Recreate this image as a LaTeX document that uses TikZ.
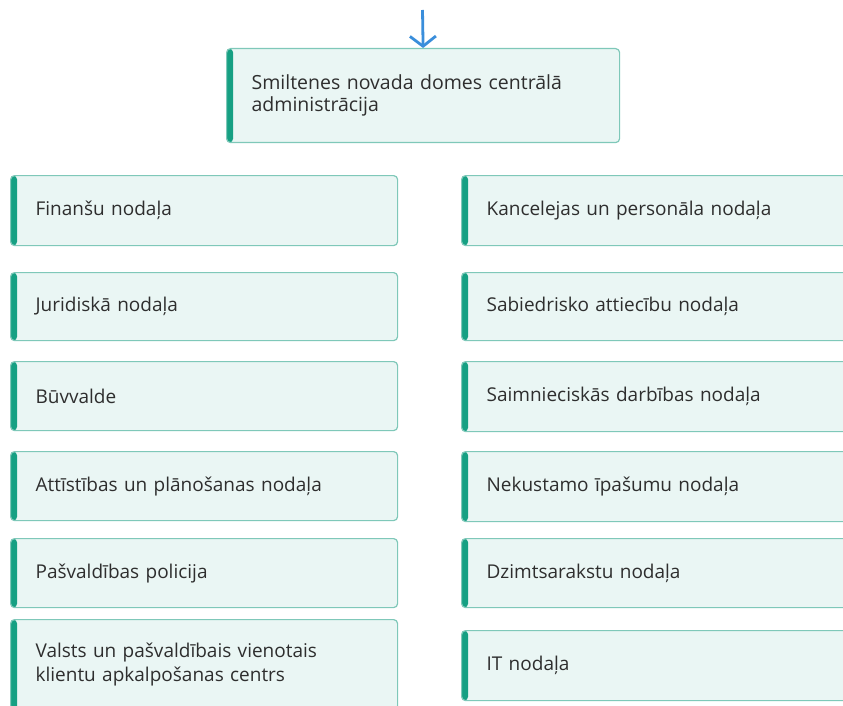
\documentclass[tikz,border=0pt]{standalone}
\usepackage{fontspec}
\setmainfont{Open Sans}
\usetikzlibrary{arrows.meta}
\definecolor{boxfill}{HTML}{EAF6F4}
\definecolor{boxline}{HTML}{7FC8B9}
\definecolor{accent}{HTML}{16A083}
\definecolor{txt}{HTML}{2E2E2E}
\definecolor{arrowblue}{HTML}{3A8EDB}
\tikzset{
  unit box/.style={draw=boxline, line width=1.2pt, fill=boxfill, rounded corners=4pt,
    anchor=north west, inner xsep=0pt, inner ysep=0pt, align=left, text=txt,
    font=\fontsize{19}{24.5}\selectfont,
    path picture={\fill[accent] (path picture bounding box.north west) rectangle ([xshift=6.5pt]path picture bounding box.south west);}},
  leftbox/.style={unit box, minimum width=387pt, text width=337pt},
  rightbox/.style={unit box, minimum width=400pt, text width=350pt},
  arr/.style={draw=arrowblue, line width=2.8pt, -{Straight Barb[length=10pt,width=26pt,line width=2.8pt]}}
}
\begin{document}
\begin{tikzpicture}[x=1pt,y=-1pt]
\clip (0,0) rectangle (843,706);
\fill[white] (0,0) rectangle (843,706);
\node[unit box, minimum width=393pt, text width=343pt, minimum height=94pt,
  font=\fontsize{19.5}{22.5}\selectfont] (top) at (226,48)
  {Smiltenes novada domes centrālā\\administrācija};
\coordinate (src) at (422.5,10);
\draw[arr] (src) -- (top.north);
% left column
\node[leftbox, minimum height=70pt] (l1) at (10,175) {Finanšu nodaļa};
\node[leftbox, minimum height=68pt] (l2) at (10,272) {Juridiskā nodaļa};
\node[leftbox, minimum height=69pt] (l3) at (10,361) {Būvvalde};
\node[leftbox, minimum height=69pt] (l4) at (10,451) {Attīstības un plānošanas nodaļa};
\node[leftbox, minimum height=69pt] (l5) at (10,538) {Pašvaldības policija};
\node[leftbox, minimum height=90pt] (l6) at (10,619) {Valsts un pašvaldībais vienotais\\klientu apkalpošanas centrs};
% right column
\node[rightbox, minimum height=70pt] (r1) at (461,175) {Kancelejas un personāla nodaļa};
\node[rightbox, minimum height=68pt] (r2) at (461,272) {Sabiedrisko attiecību nodaļa};
\node[rightbox, minimum height=70pt] (r3) at (461,361) {Saimnieciskās darbības nodaļa};
\node[rightbox, minimum height=70pt] (r4) at (461,451) {Nekustamo īpašumu nodaļa};
\node[rightbox, minimum height=69pt] (r5) at (461,538) {Dzimtsarakstu nodaļa};
\node[rightbox, minimum height=70pt] (r6) at (461,630) {IT nodaļa};
\end{tikzpicture}
\end{document}
